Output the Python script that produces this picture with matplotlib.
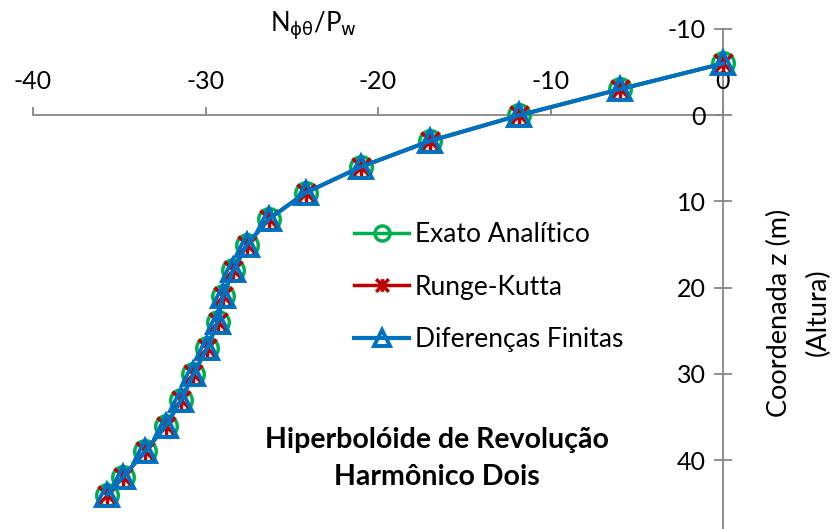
import matplotlib
matplotlib.use('Agg')
import matplotlib.pyplot as plt
from matplotlib.path import Path

plt.rcParams['font.family'] = ['Lato', 'DejaVu Sans']
plt.rcParams['axes.unicode_minus'] = False

# height along the shell (m) and normalised force N_phitheta / P_w
z = [-6, -3, 0, 3, 6, 9, 12, 15, 18, 21, 24, 27, 30, 33, 36, 39, 42, 44]
n_exato = [0.0, -6.0, -11.8, -17.0, -21.0, -24.2, -26.3, -27.6, -28.4,
           -29.0, -29.3, -29.9, -30.7, -31.4, -32.3, -33.5, -34.8, -35.7]
n_runge = [0.0, -6.0, -11.8, -17.0, -21.0, -24.2, -26.3, -27.6, -28.4,
           -29.0, -29.3, -29.9, -30.7, -31.4, -32.3, -33.5, -34.8, -35.7]
n_difer = [0.0, -6.0, -11.8, -17.0, -21.0, -24.2, -26.3, -27.6, -28.4,
           -29.0, -29.3, -29.9, -30.7, -31.4, -32.3, -33.5, -34.8, -35.7]

x_ticks = [-40, -30, -20, -10, 0]
y_ticks = [-10, 0, 10, 20, 30, 40]

# excel style star: an X with a vertical bar
star = Path([(-1, -1), (1, 1), (-1, 1), (1, -1), (0, -1), (0, 1)],
            [Path.MOVETO, Path.LINETO, Path.MOVETO, Path.LINETO,
             Path.MOVETO, Path.LINETO])

W, H = 834, 529
fig = plt.figure(figsize=(W / 100, H / 100), dpi=100)
ax = fig.add_axes([33 / W, 0, (757.5 - 33) / W, 500 / H])

ax.plot(n_exato, z, color='#00B050', lw=2.5, marker='o', ms=15.5,
        mfc='none', mec='#00B050', mew=2.5, label='Exato Analítico', zorder=3)
ax.plot(n_runge, z, color='#C00000', lw=2.5, marker=star, ms=13,
        mec='#C00000', mew=2.5, label='Runge-Kutta', zorder=4)
ax.plot(n_difer, z, color='#0070C0', lw=3, marker='^', ms=15.5,
        mfc='none', mec='#0070C0', mew=2.8, label='Diferenças Finitas', zorder=5)

ax.set_xlim(-40, 2)
ax.set_ylim(48, -10)

axis_c = '#868686'
for s in ['bottom', 'right']:
    ax.spines[s].set_visible(False)
ax.spines['top'].set_position(('data', 0))
ax.spines['top'].set_bounds(-40, 0)
ax.spines['left'].set_position(('data', 0))
ax.spines['left'].set_bounds(-10, 48)
for s in ['top', 'left']:
    ax.spines[s].set_color(axis_c)
    ax.spines[s].set_linewidth(1.3)
    ax.spines[s].set_zorder(1)

ax.xaxis.set_ticks_position('top')
ax.yaxis.set_ticks_position('left')
ax.set_xticks(x_ticks)
ax.set_yticks(y_ticks)
ax.tick_params(axis='x', direction='out', length=6, width=1.3, color=axis_c,
               pad=10, labelsize=18)
ax.tick_params(axis='y', direction='inout', length=13, width=1.3, color=axis_c,
               pad=6, labelsize=18)
ax.patch.set_visible(False)

fig.text(313 / W, 1 - 26 / H, r'N$_{\mathrm{\phi\theta}}$/P$_{\mathrm{w}}$',
         ha='center', va='center', fontsize=18.5)
fig.text(779 / W, 1 - 313 / H, 'Coordenada z (m)', rotation=90,
         ha='center', va='center', fontsize=19.5)
fig.text(818 / W, 1 - 312 / H, '(Altura)', rotation=90,
         ha='center', va='center', fontsize=19.5)

fig.text(437 / W, 1 - 440 / H, 'Hiperbolóide de Revolução', ha='center',
         va='center', fontsize=20.5, fontweight='bold')
fig.text(437 / W, 1 - 477 / H, 'Harmônico Dois', ha='center',
         va='center', fontsize=20.5, fontweight='bold')

leg = ax.legend(loc='upper left', bbox_to_anchor=(354 / W, 1 - 222 / H),
                bbox_transform=fig.transFigure, frameon=False, fontsize=19,
                handlelength=2.1, handletextpad=0.2, labelspacing=1.05,
                borderpad=0, borderaxespad=0, markerscale=0.7)

fig.savefig('out.png', dpi=100)
